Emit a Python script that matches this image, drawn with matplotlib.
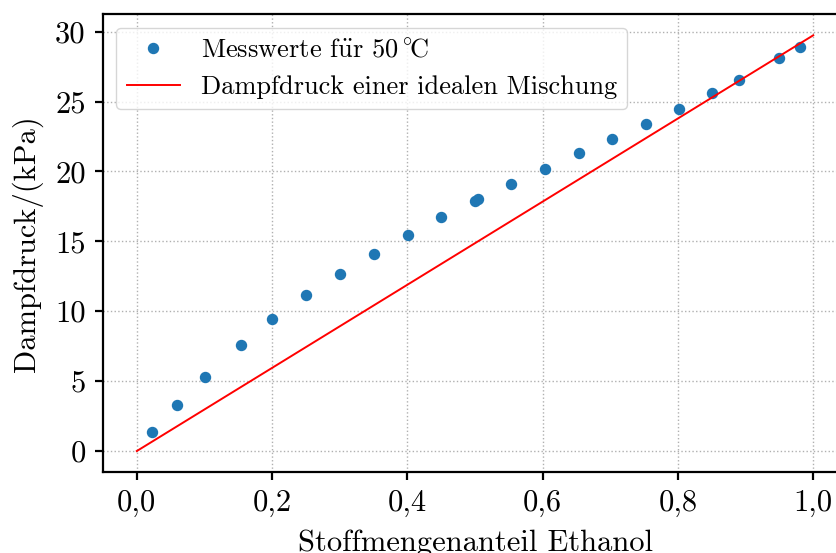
import numpy as np
import matplotlib
matplotlib.use("Agg")
from matplotlib import pyplot as plt
from matplotlib.ticker import FuncFormatter


# Messwerte (Stoffmengenanteil Ethanol, Dampfdruck in kPa)
x_ethanol = [0.022, 0.059, 0.101, 0.154, 0.200, 0.250, 0.300, 0.351, 0.401, 0.450,
             0.500, 0.505, 0.553, 0.604, 0.653, 0.703, 0.753, 0.802, 0.851, 0.891,
             0.950, 0.980]
p_dampf = [1.36, 3.31, 5.33, 7.62, 9.41, 11.14, 12.66, 14.12, 15.45, 16.71,
           17.88, 18.05, 19.12, 20.21, 21.29, 22.33, 23.41, 24.48, 25.64, 26.57,
           28.09, 28.90]

# ideale Mischung
x_ideal = [0.0, 1.0]
p_ideal = [0.0, 29.74]

plt.rcParams['font.family'] = ['cmr10', 'DejaVu Serif']
plt.rcParams['mathtext.fontset'] = 'cm'
plt.rcParams['axes.unicode_minus'] = False
plt.rcParams['font.size'] = 22

fig = plt.figure(figsize=(8.36, 5.53), dpi=100)
ax = fig.add_axes([0.1232, 0.1468, 0.89, 0.827])

ax.plot(x_ethanol, p_dampf, 'o', color='#1f77b4', markersize=7.2,
        label='Messwerte f$\\ddot{\\mathrm{u}}$r 50$\\,{}^{\\circ}\\!\\mathrm{C}$')
ax.plot(x_ideal, p_ideal, '-', color='red', linewidth=1.4, label='Dampfdruck einer idealen Mischung')

ax.set_xlim(-0.05, 1.05)
ax.set_ylim(-1.487, 31.23)
ax.set_xticks(np.arange(0, 1.01, 0.2))
ax.set_yticks(np.arange(0, 31, 5))
ax.xaxis.set_major_formatter(FuncFormatter(lambda v, pos: ('%.1f' % v).replace('.', ',')))
ax.yaxis.set_major_formatter(FuncFormatter(lambda v, pos: '%d' % round(v)))

ax.grid(True, linestyle=':', color='#b0b0b0', linewidth=1.0)
for s in ax.spines.values():
    s.set_linewidth(1.6)
ax.tick_params(width=1.6, length=5.5, pad=7)

ax.set_xlabel('Stoffmengenanteil Ethanol', labelpad=9)
ax.set_ylabel('Dampfdruck/(kPa)', labelpad=9)

ax.legend(loc='upper left', fancybox=True, framealpha=0.8, edgecolor='#cccccc',
          fontsize=19)

fig.savefig('out.png', dpi=100)
